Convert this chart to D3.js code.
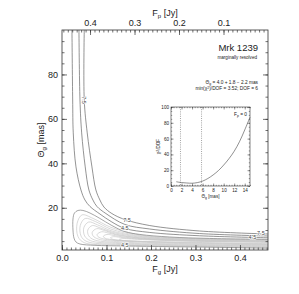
<!DOCTYPE html>
<html>
<head>
<meta charset="utf-8">
<script src="https://cdn.jsdelivr.net/npm/d3@7"></script>
<style>
  body { margin: 0; background: #fff; }
  text { font-family: "Liberation Sans", Arial, sans-serif; fill: #222; }
</style>
</head>
<body>
<script>
// total flux: F_p = fTotal - F_g
const fTotal = 0.463;

// contour lines, [F_g (Jy), Theta_g (mas)]
const contour75 = [[0.050,100],[0.050,68.5],[0.0567,53.7],[0.0673,38.4],[0.0762,28],[0.0852,23.5],
  [0.0942,20.35],[0.1121,17.4],[0.1413,14.7],[0.1973,12.0],[0.3094,9.55],[0.463,8.2]];
const contourMid = [[0.0381,100],[0.0404,68.5],[0.0442,53.7],[0.0522,38.4],[0.0605,28],[0.0695,23.5],
  [0.0785,20.6],[0.0987,17.4],[0.1413,12.5],[0.1973,10.45],[0.3094,8.4],[0.463,7.3]];
const contour45 = [[0.0224,100],[0.024,68.5],[0.0253,53.7],[0.0314,38.4],[0.0426,28],[0.0516,23.5],
  [0.0628,20.6],[0.0852,17.2],[0.1121,13.6],[0.1413,10.7],[0.1973,8.9],[0.3094,7.4],[0.463,6.5]];
const loop45 = [[0.463,5.8],[0.3318,6.2],[0.2422,6.85],[0.1749,8.0],[0.1413,9.3],[0.1121,12.0],
  [0.0852,15.2],[0.0628,17.65],[0.0471,18.8],[0.0359,18.8],[0.028,17.65],[0.0247,14.95],[0.0247,10],
  [0.0269,6.4],[0.0314,4.6],[0.0404,3.7],[0.074,3.1],[0.1413,2.8],[0.2422,2.5],[0.3543,2.2],[0.463,1.8]];

// nested inner contours (light grey)
const inner1 = [[0.463,5.6],[0.30,6.1],[0.18,7.6],[0.11,11.2],[0.07,15.2],[0.045,16.8],[0.034,13],[0.036,7],[0.05,4.3],[0.12,3.3],[0.25,2.8],[0.463,2.1]];
const inner2 = [[0.463,5.45],[0.30,5.95],[0.18,7.3],[0.11,10.4],[0.075,13.8],[0.052,15.2],[0.041,12],[0.043,7.2],[0.056,4.8],[0.12,3.6],[0.25,3.0],[0.463,2.4]];
const inner3 = [[0.463,5.3],[0.30,5.8],[0.18,7.0],[0.11,9.7],[0.08,12.3],[0.06,13.6],[0.049,11],[0.051,7.3],[0.064,5.2],[0.12,4.0],[0.25,3.2],[0.463,2.6]];
const inner4 = [[0.463,5.15],[0.30,5.6],[0.18,6.7],[0.115,8.9],[0.085,11],[0.068,12],[0.058,10],[0.06,7.4],[0.072,5.6],[0.12,4.4],[0.25,3.4],[0.463,2.85]];
const inner5 = [[0.463,5.0],[0.30,5.45],[0.18,6.4],[0.12,8.2],[0.095,9.8],[0.078,10.6],[0.068,9],[0.07,7.3],[0.082,5.9],[0.13,4.7],[0.25,3.7],[0.463,3.1]];
const inner6 = [[0.463,4.85],[0.30,5.3],[0.19,6.1],[0.13,7.5],[0.105,8.6],[0.089,9.2],[0.079,8],[0.081,7],[0.093,6],[0.14,5.0],[0.25,4.0],[0.463,3.3]];
const inner7 = [[0.463,4.7],[0.30,5.15],[0.2,5.8],[0.14,6.8],[0.115,7.6],[0.101,8],[0.093,7.2],[0.095,6.5],[0.107,5.8],[0.15,5.1],[0.25,4.3],[0.463,3.5]];
const inner8 = [[0.463,4.55],[0.30,5.0],[0.21,5.6],[0.15,6.3],[0.127,6.8],[0.116,7.0],[0.109,6.5],[0.112,6.0],[0.123,5.5],[0.16,5.0],[0.26,4.4],[0.463,3.7]];
const inner9 = [[0.463,4.45],[0.32,4.85],[0.22,5.35],[0.17,5.8],[0.145,6.1],[0.135,6.1],[0.129,5.8],[0.133,5.4],[0.145,5.1],[0.18,4.9],[0.28,4.5],[0.463,3.85]];

// contour labels: [text, F_g, Theta_g, rotated]
const contourLabels = [["7.5",0.050,68.5,true],["7.5",0.146,14.6,false],["4.5",0.141,10.9,false],
  ["4.5",0.141,3.4,false],["7.5",0.447,8.7,false],["4.5",0.428,6.6,false]];

// axis ticks
const fgTicks = [0.0, 0.1, 0.2, 0.3, 0.4];
const fpTicks = [0.4, 0.3, 0.2, 0.1];
const thetaTicks = [20, 40, 60, 80];

// inset: chi2/DOF for F_p = 0
const insetTheta = [1, 1.5, 2, 3, 4, 5, 6, 7, 8, 9, 10, 11, 12, 13, 14, 15];
const insetChi = [5.4, 4.8, 4.4, 3.8, 3.5, 4.3, 6.2, 9.5, 14, 19.5, 26.5, 34.5, 44, 56, 71, 87];
const insetErr = [1.8, 5.8];
const insetXTicks = [0, 2, 4, 6, 8, 10, 12, 14];
const insetYTicks = [0, 20, 40, 60, 80, 100];

const W = 299, H = 294;
const L = 62, R = 268, T = 30, B = 250;

const svg = d3.select("body").append("svg").attr("width", W).attr("height", H);

const x = d3.scaleLinear().domain([0, fTotal]).range([L, R]);
const xTop = d3.scaleLinear().domain([fTotal, 0]).range([L, R]);
const y = d3.scaleLinear().domain([1, 100]).range([B, T]);

svg.append("clipPath").attr("id", "clip")
  .append("rect").attr("x", L).attr("y", T).attr("width", R - L).attr("height", B - T);

const line = d3.line().x(d => x(d[0])).y(d => y(d[1])).curve(d3.curveCatmullRom.alpha(0.5));

const plot = svg.append("g").attr("clip-path", "url(#clip)");

[inner1, inner2, inner3, inner4, inner5, inner6, inner7, inner8, inner9].forEach(c => {
  plot.append("path").attr("d", line(c)).attr("fill", "none")
    .attr("stroke", "#c8c8c8").attr("stroke-width", 0.7);
});
plot.append("path").attr("d", line(loop45)).attr("fill", "none")
  .attr("stroke", "#808080").attr("stroke-width", 0.7);
[contour75, contourMid, contour45].forEach(c => {
  plot.append("path").attr("d", line(c)).attr("fill", "none")
    .attr("stroke", "#666").attr("stroke-width", 0.7);
});

// contour labels, broken line effect with white halo
contourLabels.forEach(l => {
  plot.append("text")
    .attr("transform", `translate(${x(l[1])},${y(l[2])})` + (l[3] ? " rotate(90)" : ""))
    .attr("text-anchor", "middle").attr("dy", "0.35em")
    .attr("font-size", 5.5).style("fill", "#444")
    .attr("stroke", "#fff").attr("stroke-width", 1.2).attr("paint-order", "stroke")
    .text(l[0]);
});

// axes, IDL style ticks pointing inward
function styleAxis(g) {
  g.select(".domain").remove();
  g.selectAll("line").attr("stroke", "#333").attr("stroke-width", 0.7);
  g.selectAll("text").attr("font-size", 9).style("fill", "#222");
}
svg.append("g").attr("transform", `translate(0,${B})`)
  .call(d3.axisBottom(x).tickValues(d3.range(0, 0.4601, 0.01)).tickSize(-2.5).tickFormat(""))
  .call(styleAxis);
svg.append("g").attr("transform", `translate(0,${B})`)
  .call(d3.axisBottom(x).tickValues(fgTicks).tickSize(-5).tickPadding(5).tickFormat(d3.format(".1f")))
  .call(styleAxis);
svg.append("g").attr("transform", `translate(0,${T})`)
  .call(d3.axisTop(xTop).tickValues(d3.range(0.01, 0.4601, 0.01)).tickSize(-2.5).tickFormat(""))
  .call(styleAxis);
svg.append("g").attr("transform", `translate(0,${T})`)
  .call(d3.axisTop(xTop).tickValues(fpTicks).tickSize(-5).tickPadding(4).tickFormat(d3.format(".1f")))
  .call(styleAxis);
[[L, d3.axisLeft, true], [R, d3.axisRight, false]].forEach(([pos, ax, lab]) => {
  svg.append("g").attr("transform", `translate(${pos},0)`)
    .call(ax(y).tickValues(d3.range(5, 100, 5)).tickSize(-2.5).tickFormat(""))
    .call(styleAxis);
  svg.append("g").attr("transform", `translate(${pos},0)`)
    .call(ax(y).tickValues(thetaTicks).tickSize(-5).tickPadding(4).tickFormat(lab ? d3.format("d") : ""))
    .call(styleAxis);
});
svg.append("rect").attr("x", L).attr("y", T).attr("width", R - L).attr("height", B - T)
  .attr("fill", "none").attr("stroke", "#333").attr("stroke-width", 0.8);

// axis titles
const xl = svg.append("text").attr("x", (L + R) / 2).attr("y", 272).attr("text-anchor", "middle").attr("font-size", 9);
xl.append("tspan").text("F");
xl.append("tspan").attr("font-size", 6).attr("dy", 2).text("g");
xl.append("tspan").attr("dy", -2).text(" [Jy]");
const tl = svg.append("text").attr("x", (L + R) / 2).attr("y", 16).attr("text-anchor", "middle").attr("font-size", 9);
tl.append("tspan").text("F");
tl.append("tspan").attr("font-size", 6).attr("dy", 2).text("p");
tl.append("tspan").attr("dy", -2).text(" [Jy]");
const yl = svg.append("text").attr("transform", `translate(44,${(T + B) / 2}) rotate(-90)`)
  .attr("text-anchor", "middle").attr("font-size", 9);
yl.append("tspan").text("Θ");
yl.append("tspan").attr("font-size", 6).attr("dy", 2).text("g");
yl.append("tspan").attr("dy", -2).text(" [mas]");

// annotations
svg.append("text").attr("x", 258).attr("y", 51).attr("text-anchor", "end").attr("font-size", 9.5).text("Mrk 1239");
svg.append("text").attr("x", 257).attr("y", 59).attr("text-anchor", "end").attr("font-size", 4.6).text("marginally resolved");
const s1 = svg.append("text").attr("x", 258).attr("y", 83.5).attr("text-anchor", "end").attr("font-size", 4.8);
s1.append("tspan").text("Θ");
s1.append("tspan").attr("font-size", 3.5).attr("dy", 1).text("g");
s1.append("tspan").attr("dy", -1).text(" =  4.0 + ");
s1.append("tspan").text(" 1.8 −  2.2 mas");
const s2 = svg.append("text").attr("x", 258).attr("y", 90).attr("text-anchor", "end").attr("font-size", 4.8);
s2.append("tspan").text("min(χ");
s2.append("tspan").attr("font-size", 3.5).attr("dy", -1.5).text("2");
s2.append("tspan").attr("dy", 1.5).text(")/DOF = 3.52; DOF =  6");

// inset
const iL = 171, iR = 250, iT = 107, iB = 186;
const ix = d3.scaleLinear().domain([0, 15]).range([iL, iR]);
const iy = d3.scaleLinear().domain([0, 100]).range([iB, iT]);
const inset = svg.append("g");
inset.append("rect").attr("x", iL).attr("y", iT).attr("width", iR - iL).attr("height", iB - iT).attr("fill", "#fff");
insetErr.forEach(v => {
  inset.append("line").attr("x1", ix(v)).attr("x2", ix(v)).attr("y1", iT).attr("y2", iB)
    .attr("stroke", "#666").attr("stroke-width", 0.6).attr("stroke-dasharray", "1,1.2");
});
inset.append("path")
  .attr("d", d3.line().x((d, i) => ix(d)).y((d, i) => iy(insetChi[i])).curve(d3.curveCatmullRom)(insetTheta))
  .attr("fill", "none").attr("stroke", "#444").attr("stroke-width", 0.6);
function styleInset(g) {
  g.select(".domain").remove();
  g.selectAll("line").attr("stroke", "#333").attr("stroke-width", 0.5);
  g.selectAll("text").attr("font-size", 4.6).style("fill", "#222");
}
inset.append("g").attr("transform", `translate(0,${iB})`)
  .call(d3.axisBottom(ix).tickValues(d3.range(0, 15.01, 0.5)).tickSize(-1.2).tickFormat("")).call(styleInset);
inset.append("g").attr("transform", `translate(0,${iB})`)
  .call(d3.axisBottom(ix).tickValues(insetXTicks).tickSize(-2.5).tickPadding(2.5).tickFormat(d3.format("d"))).call(styleInset);
inset.append("g").attr("transform", `translate(0,${iT})`)
  .call(d3.axisTop(ix).tickValues(d3.range(0, 15.01, 0.5)).tickSize(-1.2).tickFormat("")).call(styleInset);
inset.append("g").attr("transform", `translate(0,${iT})`)
  .call(d3.axisTop(ix).tickValues(insetXTicks).tickSize(-2.5).tickFormat("")).call(styleInset);
inset.append("g").attr("transform", `translate(${iL},0)`)
  .call(d3.axisLeft(iy).tickValues(d3.range(0, 100.1, 5)).tickSize(-1.2).tickFormat("")).call(styleInset);
inset.append("g").attr("transform", `translate(${iL},0)`)
  .call(d3.axisLeft(iy).tickValues(insetYTicks).tickSize(-2.5).tickPadding(2).tickFormat(d3.format("d"))).call(styleInset);
inset.append("g").attr("transform", `translate(${iR},0)`)
  .call(d3.axisRight(iy).tickValues(d3.range(0, 100.1, 5)).tickSize(-1.2).tickFormat("")).call(styleInset);
inset.append("g").attr("transform", `translate(${iR},0)`)
  .call(d3.axisRight(iy).tickValues(insetYTicks).tickSize(-2.5).tickFormat("")).call(styleInset);
inset.append("rect").attr("x", iL).attr("y", iT).attr("width", iR - iL).attr("height", iB - iT)
  .attr("fill", "none").attr("stroke", "#333").attr("stroke-width", 0.6);

const ixl = inset.append("text").attr("x", (iL + iR) / 2).attr("y", 198).attr("text-anchor", "middle").attr("font-size", 4.6);
ixl.append("tspan").text("Θ");
ixl.append("tspan").attr("font-size", 3.4).attr("dy", 1).text("g");
ixl.append("tspan").attr("dy", -1).text(" [mas]");
const iyl = inset.append("text").attr("transform", `translate(160,${(iT + iB) / 2}) rotate(-90)`)
  .attr("text-anchor", "middle").attr("font-size", 4.6);
iyl.append("tspan").text("χ");
iyl.append("tspan").attr("font-size", 3.4).attr("dy", -1.5).text("2");
iyl.append("tspan").attr("dy", 1.5).text("/DOF");
const ifp = inset.append("text").attr("x", 247).attr("y", 116).attr("text-anchor", "end").attr("font-size", 4.8);
ifp.append("tspan").text("F");
ifp.append("tspan").attr("font-size", 3.5).attr("dy", 1).text("p");
ifp.append("tspan").attr("dy", -1).text(" = 0");
</script>
</body>
</html>
